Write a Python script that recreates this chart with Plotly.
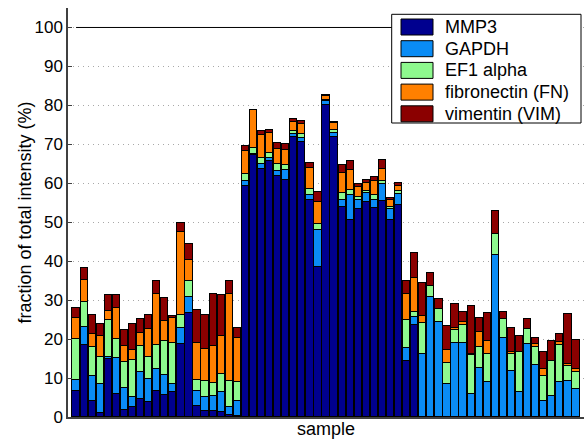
import plotly.graph_objects as go

# Fraction of total intensity (%) per sample, one list per gene
samples = list(range(1, 64))

mmp3 = [6.6, 18.5, 4.2, 1.0, 14.8, 5.9, 1.9, 2.6, 4.5, 3.9, 6.6, 5.7, 6.4, 18.8, 26.8,
        2.9, 1.5, 1.6, 1.2, 0.6, 0.3,
        59.4, 67.3, 63.7, 65.6, 62.0, 60.9, 71.9, 70.7, 55.6, 38.4, 80.1, 71.9, 53.9, 50.7,
        53.3, 55.3, 53.7, 55.4, 50.5, 54.5,
        14.5, 23.5, 0, 0, 0, 0, 0, 0, 0, 0, 0, 0, 0, 0, 0, 0, 0, 0, 0, 0, 0, 0]
gapdh = [2.8, 4.6, 6.4, 7.4, 0.5, 9.2, 5.6, 2.6, 7.1, 5.9, 5.7, 5.2, 2.1, 4.1, 3.9,
         3.7, 3.6, 3.7, 5.3, 1.9, 3.8,
         1.1, 0.2, 1.3, 1.0, 1.2, 2.6, 0.8, 0.8, 1.4, 9.7, 1.0, 1.0, 1.9, 6.4,
         2.5, 2.2, 2.1, 4.5, 2.9, 2.8,
         3.1, 2.2, 16.3, 30.9, 24.5, 8.4, 18.9, 19.1, 5.8, 12.7, 9.1, 41.7, 20.3, 11.8,
         6.3, 18.7, 13.3, 4.1, 5.5, 8.9, 9.3, 7.2]
ef1 = [10.5, 6.5, 7.5, 7.0, 9.6, 5.0, 6.6, 9.4, 6.6, 5.5, 6.2, 8.5, 10.5, 3.4, 4.1,
       2.8, 4.1, 3.5, 4.6, 6.7, 5.0,
       1.8, 1.5, 1.5, 1.1, 1.7, 1.2, 0.7, 1.1, 1.5, 1.5, 0.4, 0.7, 1.7, 1.3,
       0.8, 0.6, 1.3, 0.6, 0.5, 0.7,
       7.2, 1.3, 7.9, 2.7, 3.3, 5.4, 3.4, 4.4, 10.1, 5.4, 7.1, 5.3, 4.8, 4.4,
       10.5, 3.8, 4.7, 6.5, 8.9, 9.7, 3.9, 4.4]
fn = [5.5, 5.7, 3.3, 5.5, 2.2, 7.9, 4.1, 2.5, 3.4, 7.3, 13.1, 5.3, 6.3, 21.1, 5.6,
      9.5, 8.2, 9.5, 9.8, 22.4, 11.1,
      6.0, 9.7, 5.8, 5.1, 4.0, 3.8, 2.3, 2.6, 5.4, 5.6, 1.0, 2.0, 5.2, 4.9,
      2.5, 2.1, 3.4, 3.2, 1.8, 1.3,
      6.7, 8.6, 1.7, 0, 0, 3.5, 0.6, 0.9, 0.4, 3.8, 3.4, 0, 0, 0.5,
      0, 0, 0.8, 1.8, 0, 0.7, 0.5, 0.7]
vim = [2.7, 3.0, 4.7, 2.9, 4.2, 3.3, 4.1, 6.7, 3.6, 3.6, 3.4, 5.8, 0.6, 2.3, 4.1,
       8.5, 8.8, 13.4, 10.3, 3.2, 2.6,
       1.2, 0.2, 1.1, 1.0, 1.4, 1.6, 0.8, 0.9, 1.4, 2.6, 0.2, 0.2, 1.9, 2.4,
       0.6, 0.7, 1.2, 2.2, 0.6, 0.7,
       3.4, 6.5, 8.4, 3.4, 2.6, 6.0, 6.0, 2.6, 12.2, 3.6, 7.2, 5.8, 1.9, 6.2,
       4.0, 2.6, 1.4, 4.4, 5.2, 2.0, 12.8, 7.5]

series_names = ["MMP3", "GAPDH", "EF1 alpha", "fibronectin (FN)", "vimentin (VIM)"]
series_values = [mmp3, gapdh, ef1, fn, vim]
series_colors = ["#00008F", "#0A8CF5", "#8EF98E", "#FF8000", "#8B0000"]

y_ticks = list(range(0, 101, 10))

W, H = 585, 439
ML, MR, MT, MB = 68, 1, 8, 22
PW, PH = W - ML - MR, H - MT - MB
FONT = "Liberation Sans, Arial, sans-serif"


def px_x(px):
    return (px - ML) / PW


def px_y(py):
    return (H - MB - py) / PH


fig = go.Figure()
for name, vals, col in zip(series_names, series_values, series_colors):
    fig.add_trace(go.Bar(
        x=samples,
        y=[v if v > 0 else None for v in vals],
        name=name,
        width=0.9,
        marker=dict(color=col, line=dict(color="black", width=1)),
        showlegend=False,
    ))

shapes = [
    # 100 % reference line
    dict(type="line", xref="x", yref="y", x0=1, x1=63, y0=100, y1=100,
         line=dict(color="black", width=1), layer="above"),
    # legend frame
    dict(type="rect", xref="paper", yref="paper",
         x0=px_x(391.7), x1=px_x(581), y0=px_y(123), y1=px_y(14.3),
         fillcolor="white", line=dict(color="black", width=1), layer="above"),
]
annotations = []
for i, (name, col) in enumerate(zip(series_names, series_colors)):
    top = 19 + i * 21.7
    shapes.append(dict(type="rect", xref="paper", yref="paper",
                       x0=px_x(401), x1=px_x(433), y0=px_y(top + 16), y1=px_y(top),
                       fillcolor=col, line=dict(color="black", width=1), layer="above"))
    annotations.append(dict(text=name, xref="paper", yref="paper",
                            x=px_x(443), y=px_y(top + 8), xanchor="left", yanchor="middle",
                            showarrow=False, font=dict(size=18, color="black", family=FONT)))

annotations.append(dict(text="fraction of total intensity (%)", xref="paper", yref="paper",
                        x=px_x(24), y=0.5, textangle=-90, xanchor="center", yanchor="middle",
                        showarrow=False, font=dict(size=18, color="black", family=FONT)))
annotations.append(dict(text="sample", xref="paper", yref="paper",
                        x=0.5, y=px_y(429), xanchor="center", yanchor="middle",
                        showarrow=False, font=dict(size=18, color="black", family=FONT)))

fig.update_layout(
    width=W, height=H,
    margin=dict(l=ML, r=MR, t=MT, b=MB, pad=0),
    barmode="stack",
    bargap=0,
    plot_bgcolor="white",
    paper_bgcolor="white",
    font=dict(family=FONT, size=17, color="black"),
    shapes=shapes,
    annotations=annotations,
    xaxis=dict(range=[0, 64], showticklabels=False, ticks="", showgrid=False,
               zeroline=False, showline=True, linecolor="#404040", linewidth=1.5),
    yaxis=dict(range=[0, 105], tickvals=y_ticks, ticks="inside", ticklen=4,
               tickcolor="#404040", showline=True, linecolor="#404040", linewidth=1.5,
               showgrid=True, gridcolor="#a8a8a8", griddash="1px,4px", gridwidth=1,
               zeroline=False, tickfont=dict(size=17)),
)

fig.write_html("out.html")
